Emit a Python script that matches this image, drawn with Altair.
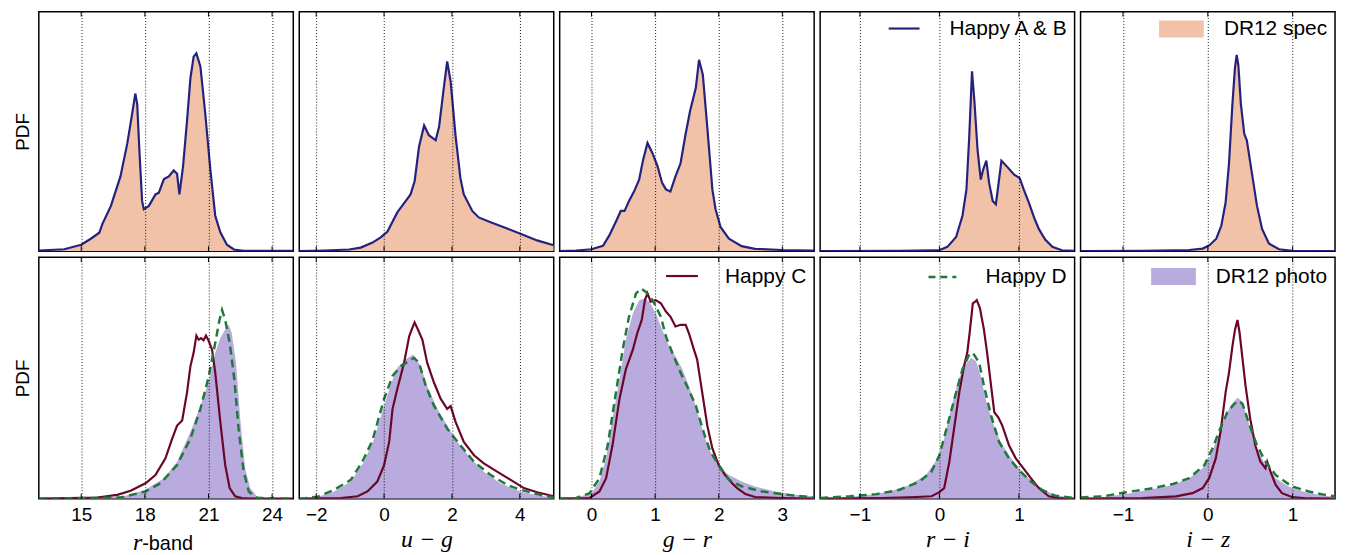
import altair as alt
import pandas as pd

# ---------------- axes -----------------
X_DOMAINS = [[13, 25], [-2.5, 5], [-0.5, 3.5], [-1.5, 1.7], [-1.5, 1.5]]
X_TICKS = [[15, 18, 21, 24], [-2, 0, 2, 4], [0, 1, 2, 3], [-1, 0, 1], [-1, 0, 1]]
X_TITLES = ["r-band", "u − g", "g − r", "r − i", "i − z"]

# ---------------- top row: DR12 spec (filled) / Happy A & B (line) -----------------
R_SPEC = [(13.0, 0.003), (14.2, 0.008), (15.0, 0.027), (15.45, 0.052), (15.85, 0.077), (16.0, 0.114),
          (16.4, 0.189), (16.85, 0.312), (17.17, 0.449), (17.4, 0.573), (17.55, 0.658), (17.64, 0.614),
          (17.75, 0.408), (17.87, 0.21), (17.95, 0.175), (18.19, 0.189), (18.5, 0.237), (18.66, 0.244),
          (18.9, 0.301), (19.13, 0.312), (19.36, 0.337), (19.52, 0.323), (19.63, 0.237), (19.8, 0.353),
          (19.99, 0.545), (20.15, 0.723), (20.3, 0.812), (20.43, 0.826), (20.62, 0.771), (20.85, 0.573),
          (21.09, 0.34), (21.32, 0.148), (21.56, 0.079), (21.87, 0.027), (22.2, 0.007), (22.65, 0.001),
          (25.0, 0.001)]
UG_SPEC = [(-2.5, 0.0), (-1.76, 0.003), (-1.03, 0.007), (-0.69, 0.015), (-0.34, 0.036), (-0.1, 0.058),
           (0.1, 0.082), (0.39, 0.162), (0.64, 0.21), (0.78, 0.237), (0.9, 0.292), (1.03, 0.436),
           (1.18, 0.525), (1.32, 0.484), (1.52, 0.463), (1.62, 0.518), (1.76, 0.682), (1.86, 0.792),
           (1.96, 0.71), (2.11, 0.477), (2.25, 0.305), (2.35, 0.237), (2.6, 0.168), (2.79, 0.141),
           (3.14, 0.121), (3.53, 0.1), (4.02, 0.073), (4.51, 0.045), (5.0, 0.025)]
GR_SPEC = [(-0.5, 0.0), (-0.24, 0.003), (0.0, 0.008), (0.18, 0.022), (0.28, 0.066), (0.39, 0.127),
           (0.46, 0.168), (0.52, 0.168), (0.59, 0.21), (0.67, 0.25), (0.75, 0.3), (0.81, 0.38),
           (0.88, 0.452), (0.96, 0.408), (1.04, 0.353), (1.11, 0.285), (1.17, 0.258), (1.24, 0.249),
           (1.32, 0.312), (1.4, 0.367), (1.48, 0.49), (1.55, 0.586), (1.64, 0.682), (1.69, 0.799),
           (1.75, 0.737), (1.82, 0.518), (1.9, 0.258), (1.95, 0.175), (2.03, 0.1), (2.16, 0.052),
           (2.36, 0.021), (2.57, 0.01), (2.99, 0.005), (3.5, 0.003)]
RI_SPEC = [(-1.5, 0.0), (-0.5, 0.001), (-0.08, 0.004), (0.0, 0.004), (0.1, 0.018), (0.21, 0.059),
           (0.29, 0.148), (0.34, 0.258), (0.375, 0.477), (0.41, 0.751), (0.44, 0.627), (0.48, 0.422),
           (0.52, 0.299), (0.55, 0.34), (0.59, 0.378), (0.625, 0.285), (0.67, 0.21), (0.71, 0.196),
           (0.75, 0.299), (0.78, 0.378), (0.85, 0.353), (0.94, 0.319), (1.01, 0.305), (1.06, 0.258),
           (1.125, 0.203), (1.19, 0.141), (1.25, 0.093), (1.33, 0.049), (1.42, 0.018), (1.54, 0.004),
           (1.7, 0.001)]
IZ_SPEC = [(-1.5, 0.0), (-0.77, 0.001), (-0.22, 0.005), (-0.06, 0.011), (0.02, 0.025), (0.1, 0.052),
           (0.16, 0.107), (0.21, 0.203), (0.25, 0.367), (0.29, 0.614), (0.32, 0.764), (0.34, 0.819),
           (0.36, 0.778), (0.39, 0.614), (0.43, 0.49), (0.46, 0.463), (0.52, 0.326), (0.58, 0.189),
           (0.64, 0.093), (0.72, 0.032), (0.84, 0.008), (1.0, 0.001), (1.5, 0.0)]
# Happy A & B traces the spec distribution almost exactly
R_HAPPY_AB = R_SPEC
UG_HAPPY_AB = UG_SPEC
GR_HAPPY_AB = GR_SPEC
RI_HAPPY_AB = RI_SPEC
IZ_HAPPY_AB = IZ_SPEC

# ---------------- bottom row: DR12 photo (filled), Happy C, Happy D -----------------
R_PHOTO = [(13.0, 0.0), (15.76, 0.003), (17.0, 0.01), (18.03, 0.037), (18.9, 0.085), (19.52, 0.153),
           (20.15, 0.276), (20.62, 0.385), (21.0, 0.481), (21.32, 0.604), (21.56, 0.665), (21.79, 0.7),
           (21.95, 0.72), (22.1, 0.686), (22.3, 0.563), (22.5, 0.33), (22.73, 0.126), (22.97, 0.044),
           (23.28, 0.01), (23.9, 0.001), (25.0, 0.0)]
R_HAPPY_D = [(13.0, 0.0), (16.86, 0.005), (18.03, 0.03), (18.74, 0.064), (19.52, 0.139), (20.15, 0.249),
             (20.62, 0.372), (21.0, 0.501), (21.32, 0.645), (21.52, 0.74), (21.64, 0.781), (21.79, 0.74),
             (22.0, 0.645), (22.22, 0.495), (22.42, 0.29), (22.66, 0.112), (22.9, 0.03), (23.28, 0.003),
             (25.0, 0.0)]
R_HAPPY_C = [(13.0, 0.0), (15.76, 0.005), (16.7, 0.016), (17.33, 0.033), (18.03, 0.064), (18.5, 0.098),
             (18.97, 0.167), (19.29, 0.249), (19.52, 0.303), (19.76, 0.324), (19.99, 0.44), (20.15, 0.549),
             (20.3, 0.604), (20.43, 0.675), (20.54, 0.658), (20.65, 0.665), (20.77, 0.656), (20.88, 0.675),
             (21.0, 0.656), (21.17, 0.617), (21.32, 0.522), (21.56, 0.317), (21.79, 0.139), (22.0, 0.044),
             (22.26, 0.01), (22.65, 0.001), (25.0, 0.0)]

UG_PHOTO = [(-2.5, 0.0), (-1.96, 0.007), (-1.47, 0.03), (-0.98, 0.071), (-0.59, 0.153), (-0.29, 0.249),
            (0.0, 0.385), (0.2, 0.474), (0.39, 0.542), (0.64, 0.577), (0.86, 0.597), (1.08, 0.549),
            (1.27, 0.467), (1.57, 0.372), (1.86, 0.303), (2.16, 0.235), (2.55, 0.167), (2.94, 0.112),
            (3.43, 0.064), (4.02, 0.03), (4.51, 0.014), (5.0, 0.005)]
UG_HAPPY_D = [(-2.5, 0.0), (-1.96, 0.008), (-1.47, 0.037), (-0.98, 0.078), (-0.64, 0.153), (-0.34, 0.242),
              (0.0, 0.413), (0.25, 0.508), (0.49, 0.549), (0.74, 0.57), (0.88, 0.583), (1.03, 0.563),
              (1.23, 0.467), (1.47, 0.385), (1.86, 0.29), (2.25, 0.221), (2.65, 0.153), (3.14, 0.098),
              (3.63, 0.057), (4.02, 0.037), (4.51, 0.019), (5.0, 0.005)]
UG_HAPPY_C = [(-2.5, 0.0), (-1.27, 0.003), (-0.78, 0.01), (-0.49, 0.03), (-0.2, 0.071), (0.0, 0.139),
              (0.15, 0.235), (0.25, 0.372), (0.39, 0.454), (0.59, 0.563), (0.74, 0.672), (0.83, 0.706),
              (0.9, 0.73), (0.98, 0.706), (1.13, 0.658), (1.27, 0.563), (1.47, 0.481), (1.67, 0.413),
              (1.86, 0.372), (1.96, 0.383), (2.11, 0.317), (2.35, 0.235), (2.65, 0.18), (2.94, 0.146),
              (3.33, 0.112), (3.73, 0.078), (4.12, 0.044), (4.51, 0.027), (5.0, 0.01)]

GR_PHOTO = [(-0.5, 0.0), (-0.24, 0.005), (0.0, 0.023), (0.125, 0.071), (0.23, 0.167), (0.33, 0.331),
            (0.44, 0.495), (0.54, 0.658), (0.65, 0.768), (0.75, 0.822), (0.83, 0.829), (0.91, 0.816),
            (1.01, 0.768), (1.11, 0.7), (1.22, 0.631), (1.32, 0.59), (1.43, 0.536), (1.53, 0.467),
            (1.64, 0.385), (1.74, 0.29), (1.84, 0.208), (2.0, 0.133), (2.16, 0.098), (2.36, 0.071),
            (2.57, 0.051), (2.89, 0.03), (3.2, 0.016), (3.5, 0.01)]
GR_HAPPY_D = [(-0.5, 0.0), (-0.24, 0.003), (-0.03, 0.023), (0.125, 0.085), (0.255, 0.221), (0.385, 0.44),
              (0.49, 0.617), (0.59, 0.754), (0.7, 0.85), (0.78, 0.87), (0.85, 0.857), (0.96, 0.822),
              (1.09, 0.754), (1.17, 0.672), (1.27, 0.604), (1.4, 0.522), (1.5, 0.467), (1.64, 0.385),
              (1.77, 0.269), (1.87, 0.194), (2.0, 0.139), (2.16, 0.078), (2.36, 0.051), (2.68, 0.03),
              (2.99, 0.019), (3.3, 0.01), (3.5, 0.005)]
GR_HAPPY_C = [(-0.5, 0.0), (-0.03, 0.003), (0.125, 0.03), (0.23, 0.085), (0.33, 0.221), (0.44, 0.413),
              (0.54, 0.536), (0.65, 0.617), (0.72, 0.686), (0.79, 0.74), (0.84, 0.822), (0.88, 0.85),
              (0.93, 0.816), (1.01, 0.822), (1.09, 0.809), (1.17, 0.775), (1.24, 0.754), (1.32, 0.713),
              (1.4, 0.72), (1.48, 0.72), (1.53, 0.686), (1.61, 0.617), (1.66, 0.577), (1.74, 0.44),
              (1.82, 0.303), (1.9, 0.208), (2.0, 0.139), (2.1, 0.098), (2.21, 0.064), (2.29, 0.044),
              (2.42, 0.019), (2.57, 0.007), (2.99, 0.003), (3.5, 0.0)]

RI_PHOTO = [(-1.5, 0.0), (-1.21, 0.005), (-0.92, 0.014), (-0.625, 0.03), (-0.375, 0.057), (-0.17, 0.098),
            (-0.02, 0.167), (0.06, 0.249), (0.145, 0.372), (0.23, 0.481), (0.31, 0.549), (0.4, 0.583),
            (0.46, 0.57), (0.52, 0.508), (0.58, 0.413), (0.67, 0.317), (0.77, 0.235), (0.875, 0.18),
            (1.0, 0.126), (1.125, 0.085), (1.29, 0.041), (1.46, 0.014), (1.7, 0.003)]
RI_HAPPY_D = [(-1.5, 0.003), (-1.125, 0.01), (-0.79, 0.019), (-0.5, 0.037), (-0.25, 0.071), (-0.1, 0.112),
              (0.0, 0.18), (0.1, 0.303), (0.21, 0.44), (0.29, 0.536), (0.375, 0.597), (0.42, 0.604),
              (0.5, 0.563), (0.56, 0.467), (0.65, 0.344), (0.75, 0.235), (0.875, 0.167), (1.0, 0.119),
              (1.15, 0.071), (1.29, 0.037), (1.46, 0.012), (1.7, 0.003)]
RI_HAPPY_C = [(-1.5, 0.0), (-0.71, 0.003), (-0.29, 0.007), (-0.1, 0.01), (0.0, 0.027), (0.06, 0.044),
              (0.125, 0.153), (0.19, 0.303), (0.25, 0.44), (0.31, 0.549), (0.35, 0.604), (0.38, 0.686),
              (0.42, 0.809), (0.45, 0.816), (0.47, 0.822), (0.51, 0.788), (0.56, 0.7), (0.6, 0.604),
              (0.65, 0.467), (0.69, 0.358), (0.74, 0.337), (0.79, 0.303), (0.875, 0.221), (0.96, 0.167),
              (1.04, 0.133), (1.15, 0.085), (1.25, 0.044), (1.375, 0.01), (1.5, 0.003), (1.7, 0.0)]

IZ_PHOTO = [(-1.5, 0.0), (-1.23, 0.007), (-0.96, 0.019), (-0.69, 0.037), (-0.41, 0.057), (-0.22, 0.085),
            (-0.06, 0.126), (0.035, 0.18), (0.11, 0.249), (0.19, 0.331), (0.27, 0.385), (0.35, 0.419),
            (0.41, 0.399), (0.48, 0.317), (0.58, 0.208), (0.68, 0.139), (0.8, 0.085), (0.95, 0.051),
            (1.15, 0.027), (1.34, 0.014), (1.5, 0.007)]
IZ_HAPPY_D = [(-1.5, 0.005), (-1.23, 0.01), (-0.96, 0.027), (-0.69, 0.041), (-0.41, 0.061), (-0.22, 0.085),
              (-0.04, 0.139), (0.055, 0.208), (0.13, 0.276), (0.23, 0.358), (0.31, 0.392), (0.36, 0.406),
              (0.41, 0.392), (0.48, 0.317), (0.58, 0.221), (0.68, 0.153), (0.8, 0.098), (0.99, 0.051),
              (1.19, 0.03), (1.38, 0.016), (1.5, 0.01)]
IZ_HAPPY_C = [(-1.5, 0.0), (-0.77, 0.003), (-0.375, 0.01), (-0.18, 0.023), (-0.06, 0.044), (0.016, 0.085),
              (0.094, 0.167), (0.15, 0.276), (0.21, 0.44), (0.25, 0.522), (0.29, 0.631), (0.32, 0.699),
              (0.35, 0.74), (0.375, 0.686), (0.41, 0.577), (0.445, 0.467), (0.5, 0.331), (0.56, 0.221),
              (0.62, 0.153), (0.68, 0.126), (0.70, 0.153), (0.74, 0.112), (0.8, 0.057), (0.875, 0.023),
              (0.99, 0.007), (1.19, 0.001), (1.5, 0.0)]

TOP_FILL = [R_SPEC, UG_SPEC, GR_SPEC, RI_SPEC, IZ_SPEC]
TOP_LINE = [R_HAPPY_AB, UG_HAPPY_AB, GR_HAPPY_AB, RI_HAPPY_AB, IZ_HAPPY_AB]
BOT_FILL = [R_PHOTO, UG_PHOTO, GR_PHOTO, RI_PHOTO, IZ_PHOTO]
BOT_C = [R_HAPPY_C, UG_HAPPY_C, GR_HAPPY_C, RI_HAPPY_C, IZ_HAPPY_C]
BOT_D = [R_HAPPY_D, UG_HAPPY_D, GR_HAPPY_D, RI_HAPPY_D, IZ_HAPPY_D]

# ---------------- styles -----------------
SPEC_FILL = "#f2c2a8"
PHOTO_FILL = "#b9abde"
NAVY = "#23237f"
MAROON = "#6b0629"
GREEN = "#1f7a3a"
SANS = "Liberation Sans"
SERIF = "Liberation Serif"

W = 256
H_TOP = 241
H_BOT = 243


def df(points):
    return pd.DataFrame(points, columns=["x", "y"])


def one():
    return pd.DataFrame({"k": [0]})


def panel(col, row):
    h = H_TOP if row == 0 else H_BOT
    xscale = alt.Scale(domain=X_DOMAINS[col], nice=False, zero=False)
    yscale = alt.Scale(domain=[0, 1], nice=False, zero=True)
    common_x = dict(values=X_TICKS[col], grid=True, gridDash=[1, 2], gridColor="black",
                    gridOpacity=0.9, gridWidth=1, ticks=False, domain=False, zindex=1)
    if row == 0:
        xaxis = alt.Axis(labels=False, title=None, labelPadding=0, tickSize=0, **common_x)
    else:
        xaxis = alt.Axis(labels=True, labelFont=SANS, labelFontSize=19, labelColor="black",
                         labelPadding=7, tickSize=0, format="d",
                         title=(None if col == 0 else X_TITLES[col]),
                         titleFont=SERIF, titleFontStyle="italic", titleFontWeight="normal",
                         titleFontSize=24, titleColor="black", titlePadding=3, **common_x)
    if col == 0:
        yaxis = alt.Axis(title="PDF", labels=False, ticks=False, domain=False, grid=False,
                         titleFont=SANS, titleFontSize=19, titleFontWeight="normal",
                         titleColor="black", titlePadding=6)
    else:
        yaxis = None

    X = alt.X("x:Q", scale=xscale, axis=xaxis)
    Y = alt.Y("y:Q", scale=yscale, axis=yaxis)

    layers = []
    if row == 0:
        layers.append(alt.Chart(df(TOP_FILL[col])).mark_area(color=SPEC_FILL, opacity=1, clip=True)
                      .encode(x=X, y=Y))
        layers.append(alt.Chart(df(TOP_LINE[col])).mark_line(color=NAVY, strokeWidth=2.2, clip=True)
                      .encode(x=X, y=Y))
    else:
        layers.append(alt.Chart(df(BOT_FILL[col])).mark_area(color=PHOTO_FILL, opacity=1, clip=True)
                      .encode(x=X, y=Y))
        layers.append(alt.Chart(df(BOT_C[col])).mark_line(color=MAROON, strokeWidth=2.2, clip=True)
                      .encode(x=X, y=Y))
        layers.append(alt.Chart(df(BOT_D[col])).mark_line(color=GREEN, strokeWidth=2.5,
                                                          strokeDash=[8, 5], clip=True)
                      .encode(x=X, y=Y))

    # inward tick marks at top and bottom edges
    tdf = pd.DataFrame({"x": X_TICKS[col]})
    layers.append(alt.Chart(tdf).mark_rule(color="black", strokeWidth=1)
                  .encode(x=alt.X("x:Q", scale=xscale, axis=xaxis), y=alt.value(0), y2=alt.value(5)))
    layers.append(alt.Chart(tdf).mark_rule(color="black", strokeWidth=1)
                  .encode(x=alt.X("x:Q", scale=xscale, axis=xaxis), y=alt.value(h - 5), y2=alt.value(h)))

    # legends
    lfont = dict(font=SANS, fontSize=21, color="black", align="right", baseline="middle")
    if row == 0 and col == 3:
        layers.append(alt.Chart(one()).mark_rule(color=NAVY, strokeWidth=2.2)
                      .encode(x=alt.value(69), x2=alt.value(100), y=alt.value(17)))
        layers.append(alt.Chart(one()).mark_text(**lfont)
                      .encode(x=alt.value(W - 8), y=alt.value(18), text=alt.value("Happy A & B")))
    if row == 0 and col == 4:
        layers.append(alt.Chart(one()).mark_rect(color=SPEC_FILL)
                      .encode(x=alt.value(79), x2=alt.value(124), y=alt.value(9), y2=alt.value(26)))
        layers.append(alt.Chart(one()).mark_text(**lfont)
                      .encode(x=alt.value(W - 8), y=alt.value(18), text=alt.value("DR12 spec")))
    if row == 1 and col == 2:
        layers.append(alt.Chart(one()).mark_rule(color=MAROON, strokeWidth=2.2)
                      .encode(x=alt.value(107), x2=alt.value(139), y=alt.value(19)))
        layers.append(alt.Chart(one()).mark_text(**lfont)
                      .encode(x=alt.value(W - 8), y=alt.value(20), text=alt.value("Happy C")))
    if row == 1 and col == 3:
        layers.append(alt.Chart(one()).mark_rule(color=GREEN, strokeWidth=2.5, strokeDash=[7, 5])
                      .encode(x=alt.value(109), x2=alt.value(137), y=alt.value(20)))
        layers.append(alt.Chart(one()).mark_text(**lfont)
                      .encode(x=alt.value(W - 8), y=alt.value(20), text=alt.value("Happy D")))
    if row == 1 and col == 4:
        layers.append(alt.Chart(one()).mark_rect(color=PHOTO_FILL)
                      .encode(x=alt.value(71), x2=alt.value(116), y=alt.value(11), y2=alt.value(28)))
        layers.append(alt.Chart(one()).mark_text(**lfont)
                      .encode(x=alt.value(W - 8), y=alt.value(20), text=alt.value("DR12 photo")))
    if row == 1 and col == 0:
        layers.append(alt.Chart(one()).mark_text(font=SERIF, fontStyle="italic", fontSize=24,
                                                 color="black", align="right", baseline="middle")
                      .encode(x=alt.value(104), y=alt.value(h + 45), text=alt.value("r")))
        layers.append(alt.Chart(one()).mark_text(font=SANS, fontSize=20, color="black",
                                                 align="left", baseline="middle")
                      .encode(x=alt.value(104), y=alt.value(h + 46), text=alt.value("-band")))

    return alt.layer(*layers).properties(width=W, height=h)


top = alt.hconcat(*[panel(c, 0) for c in range(5)], spacing=4)
bot = alt.hconcat(*[panel(c, 1) for c in range(5)], spacing=4)

chart = (alt.vconcat(top, bot, spacing=2)
         .properties(padding={"left": 5, "top": 0, "right": 5, "bottom": 1}, background="white")
         .configure_view(stroke="black", strokeWidth=1.5))

chart.save("out.html", embed_options={"renderer": "svg", "actions": False})
